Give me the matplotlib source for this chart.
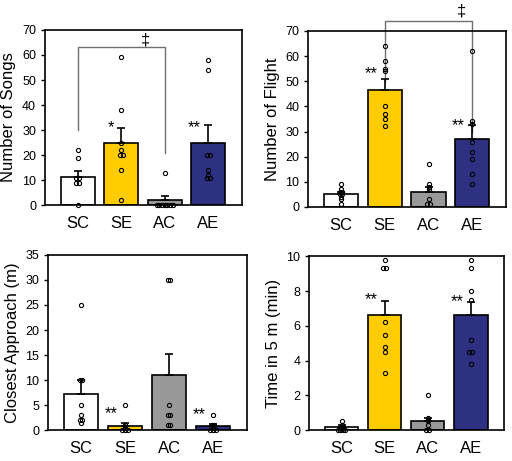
import numpy as np
import matplotlib.pyplot as plt

plt.rcParams['font.family'] = ['Liberation Sans', 'DejaVu Sans']

groups = ["SC", "SE", "AC", "AE"]
colors = ["#ffffff", "#ffcc00", "#999999", "#2e3182"]

# Number of songs
songs_mean = [11.3, 25, 2, 25]
songs_err = [2.2, 6, 1.5, 7]
songs_pts = [[22, 19, 11, 11, 9, 9, 0],
             [59, 38, 25, 22, 20, 20, 14, 2],
             [13, 0, 0, 0, 0, 0, 0, 0],
             [58, 54, 20, 20, 14, 12, 11, 11]]
songs_stars = ["", "*", "", "**"]
songs_star_y = [0, 31, 0, 31]

# Number of flights
flight_mean = [5, 46.5, 6, 27]
flight_err = [1, 4.5, 2, 5.5]
flight_pts = [[9, 7, 6, 6, 5, 5, 4, 3, 1],
              [64, 58, 55, 54, 40, 37, 35, 32],
              [17, 9, 8, 7, 3, 1, 1],
              [62, 34, 33, 26, 22, 19, 13, 9]]
flight_stars = ["", "**", "", "**"]
flight_star_y = [0, 53, 0, 32.5]

# Closest approach
close_mean = [7.3, 0.9, 11, 0.8]
close_err = [2.7, 0.5, 4.2, 0.4]
close_pts = [[25, 10, 10, 5, 3, 2, 2, 1.5],
             [5, 1, 0.5, 0, 0, 0],
             [30, 30, 5, 3, 3, 1, 1],
             [3, 1, 1, 0, 0, 0]]
close_stars = ["", "**", "", "**"]
close_star_y = [0, 3.2, 0, 3.0]

# Time within 5 m
time_mean = [0.2, 6.6, 0.5, 6.6]
time_err = [0.1, 0.85, 0.2, 0.8]
time_pts = [[0.5, 0.3, 0.2, 0, 0, 0, 0],
            [9.8, 9.3, 9.3, 6.2, 5.5, 4.8, 4.5, 3.3],
            [2, 0.7, 0.6, 0.5, 0.3, 0, 0],
            [9.8, 9.3, 8, 7.5, 5.2, 4.5, 4.5, 3.8]]
time_stars = ["", "**", "", "**"]
time_star_y = [0, 7.5, 0, 7.4]


def panel(ax, means, errs, pts, stars, star_y, ylabel, ymax, ystep):
    x = np.arange(len(groups))
    ax.bar(x, means, width=0.78, color=colors, edgecolor="black", linewidth=1.2, zorder=1)
    ax.errorbar(x, means, yerr=[np.zeros(len(errs)), errs], fmt="none",
                ecolor="black", elinewidth=1.2, capsize=3, capthick=1.2, zorder=2)
    for i, vals in enumerate(pts):
        vals = np.array(vals, dtype=float)
        offs = np.zeros(len(vals))
        for v in np.unique(vals):
            idx = np.where(vals == v)[0]
            offs[idx] = (np.arange(len(idx)) - (len(idx) - 1) / 2) * 0.06
        ax.plot(i + offs, vals, "o", ms=3, mfc="none", mec="black", mew=0.8,
                zorder=3, clip_on=False)
        if stars[i]:
            ax.text(i - 0.17, star_y[i], stars[i], ha="right", va="center", fontsize=12)
    ax.set_ylim(0, ymax)
    ax.set_xlim(-0.75, 3.78)
    ax.set_yticks(np.arange(0, ymax + 0.01, ystep))
    ax.set_xticks(x)
    ax.set_xticklabels(groups, fontsize=12)
    ax.tick_params(axis="x", length=0, pad=8)
    ax.tick_params(axis="y", labelsize=9, length=3, width=1, direction="out")
    ax.set_ylabel(ylabel, fontsize=12)
    for s in ax.spines.values():
        s.set_linewidth(1.2)


fig = plt.figure(figsize=(5.12, 4.61), dpi=100)
ax1 = fig.add_axes([0.088, 0.555, 0.385, 0.380])
ax2 = fig.add_axes([0.602, 0.551, 0.387, 0.382])
ax3 = fig.add_axes([0.094, 0.067, 0.389, 0.380])
ax4 = fig.add_axes([0.604, 0.067, 0.381, 0.377])

panel(ax1, songs_mean, songs_err, songs_pts, songs_stars, songs_star_y, "Number of Songs", 70, 10)
panel(ax2, flight_mean, flight_err, flight_pts, flight_stars, flight_star_y, "Number of Flight", 70, 10)
panel(ax3, close_mean, close_err, close_pts, close_stars, close_star_y, "Closest Approach (m)", 35, 5)
panel(ax4, time_mean, time_err, time_pts, time_stars, time_star_y, "Time in 5 m (min)", 10, 2)

# significance brackets
ax1.plot([0, 0, 2, 2], [30, 63, 63, 21], color="#707070", lw=1, zorder=0, clip_on=False)
ax1.text(1.55, 66, "\u2021", ha="center", va="center", fontsize=12)
ax2.plot([1, 1, 3, 3], [50, 74, 74, 30], color="#707070", lw=1, zorder=0, clip_on=False)
ax2.text(2.75, 78, "\u2021", ha="center", va="center", fontsize=12)

plt.savefig("out.png", dpi=100)
